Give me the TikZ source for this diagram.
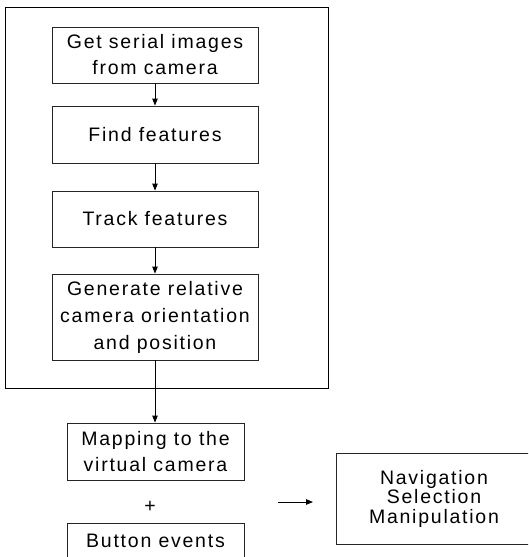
\documentclass[tikz,border=0pt]{standalone}
\usepackage{fontspec}
\setmainfont{Liberation Sans}[LetterSpace=9]
\usetikzlibrary{arrows.meta}
\begin{document}
\begin{tikzpicture}[x=1pt,y=-1pt,
  every node/.style={font=\fontsize{19.5}{26}\selectfont},
  procbox/.style={draw=black!85,line width=0.9pt,rectangle,inner sep=0pt,align=center,minimum width=206pt},
  arr/.style={line width=0.9pt,-{Triangle[length=7pt,width=5.5pt]}}]
\useasboundingbox (0,0) rectangle (528,557);
\clip (0,0) rectangle (528,557);
\draw[line width=0.9pt] (5,7) rectangle (328,388);
\node[procbox,minimum height=56pt] (b1) at (155,55) {Get serial images\\from camera};
\node[procbox,minimum height=57pt] (b2) at (155,134.5) {Find features};
\node[procbox,minimum height=56pt] (b3) at (155,219) {Track features};
\node[procbox,minimum height=86pt,font=\fontsize{19.5}{27}\selectfont] (b4) at (155,317) {Generate relative\\camera orientation\\and position};
\node[procbox,minimum width=177pt,minimum height=57pt] (m) at (155.5,451.5) {Mapping to the\\virtual camera};
\node[inner sep=0pt] (plus) at (150,507) {+};
\node[procbox,minimum width=177pt,minimum height=56pt,anchor=north,text depth=22pt] (be) at (155.5,523) {Button events};
\node[procbox,minimum width=196pt,minimum height=91pt,font=\fontsize{19.5}{19.5}\selectfont] (nav) at (434,498.5) {Navigation\\Selection\\Manipulation};
\coordinate (a1) at (278,502);
\coordinate (a2) at (313,502);
\draw[arr] (b1) -- (b2);
\draw[arr] (b2) -- (b3);
\draw[arr] (b3) -- (b4);
\draw[arr] (b4.south) -- (m.north -| b4.south);
\draw[arr] (a1) -- (a2);
\end{tikzpicture}
\end{document}
